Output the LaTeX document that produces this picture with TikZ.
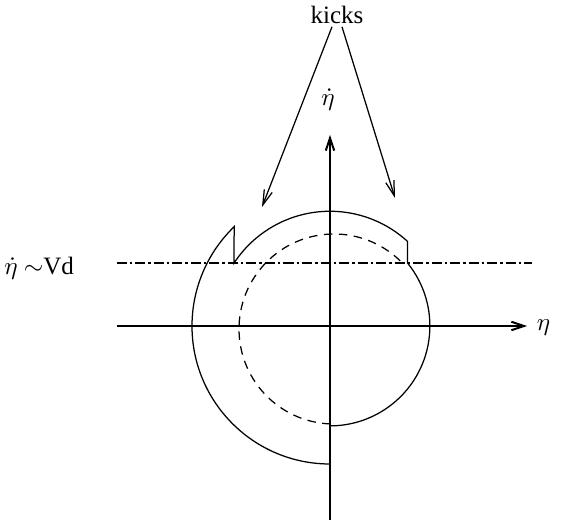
\documentclass[tikz,border=0pt]{standalone}
\usepackage{fontspec}
\setmainfont{Liberation Serif}
\usetikzlibrary{arrows.meta}

\begin{document}
\begin{tikzpicture}[
  x=0.4pt, y=0.4pt,
  axis/.style ={line width=0.8pt,-{Straight Barb[length=5pt,width=3.4pt]}},
  orbit/.style={line width=0.5pt},
  guess/.style={line width=0.5pt,dash pattern=on 3.4pt off 2.6pt},
  level/.style={line width=0.6pt,dash pattern=on 4pt off 1.2pt on 1pt off 1.2pt},
  kick/.style ={line width=0.5pt,-{Straight Barb[length=6pt,width=3.4pt]}},
  lbl/.style  ={font=\normalsize,inner sep=1pt},
]
\useasboundingbox (-330,-194) rectangle (231,326);

% labels
\node[lbl] (kicks)  at (7,311)  {kicks};
\node[lbl] (etadot) at (-2,226) {$\dot{\eta}$};
\node[lbl,anchor=east] (vd)  at (-253,58) {$\dot{\eta}$ $\sim$Vd};
\node[lbl,anchor=west] (eta) at (204,-2)  {$\eta$};

% axis ends and kick points
\coordinate (xbeg) at (-213,0);
\coordinate (xend) at (197,0);
\coordinate (ybeg) at (0,-194);
\coordinate (yend) at (0,191);
\coordinate (kickL) at (-68,119);
\coordinate (kickR) at (65,128);

% axes
\draw[axis] (xbeg) -- (xend);
\draw[axis] (ybeg) -- (yend);

% level of the kicks
\draw[level] (-213,63) -- (202,63);

% orbit with two kicks
\draw[orbit] (0,-138) arc[start angle=270,end angle=134,radius=138]
  -- (-95.9,63) arc[start angle=146.7,end angle=47.5,radius=114.74]
  -- (77.52,63) arc[start angle=39.1,end angle=-90,radius=99.89];
\draw[guess] (4,-3) ++(268:95) arc[start angle=268,end angle=43,radius=95];

% arrows to the kicks
\draw[kick] ([xshift=-2pt]kicks.south) -- (kickL);
\draw[kick] ([xshift=2pt]kicks.south)  -- (kickR);
\end{tikzpicture}
\end{document}
